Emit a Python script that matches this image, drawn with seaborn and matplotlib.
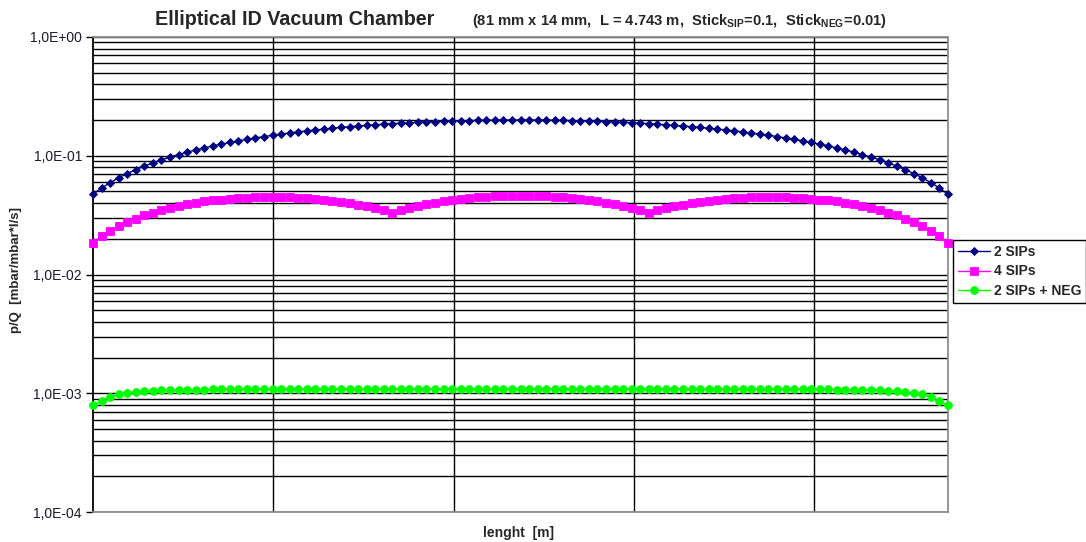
import numpy as np
import pandas as pd
import matplotlib
matplotlib.use("Agg")
import matplotlib.pyplot as plt
from matplotlib.ticker import LogLocator, FuncFormatter, NullFormatter
import seaborn as sns

# ---------------------------------------------------------------------------
# Data: pressure / outgassing ratio along the chamber (101 sampling points)
# ---------------------------------------------------------------------------
chamber_length = 4.743  # m
position = np.linspace(0.0, chamber_length, 101)

p_2sips = [
    0.0474, 0.0534, 0.0594, 0.0652, 0.0708, 0.0764, 0.0818, 0.0871, 0.0923, 0.0974,
    0.1023, 0.1072, 0.1119, 0.1164, 0.1209, 0.1252, 0.1294, 0.1335, 0.1375, 0.1413,
    0.1451, 0.1487, 0.1521, 0.1555, 0.1587, 0.1619, 0.1648, 0.1677, 0.1705, 0.1731,
    0.1756, 0.1780, 0.1802, 0.1824, 0.1844, 0.1863, 0.1880, 0.1897, 0.1912, 0.1926,
    0.1939, 0.1951, 0.1961, 0.1970, 0.1978, 0.1985, 0.1990, 0.1995, 0.1998, 0.1999,
    0.2000,
    0.1999, 0.1998, 0.1995, 0.1990, 0.1985, 0.1978, 0.1970, 0.1961, 0.1951, 0.1939,
    0.1926, 0.1912, 0.1897, 0.1880, 0.1863, 0.1844, 0.1824, 0.1802, 0.1780, 0.1756,
    0.1731, 0.1705, 0.1677, 0.1648, 0.1619, 0.1587, 0.1555, 0.1521, 0.1487, 0.1451,
    0.1413, 0.1375, 0.1335, 0.1294, 0.1252, 0.1209, 0.1164, 0.1119, 0.1072, 0.1023,
    0.0974, 0.0923, 0.0871, 0.0818, 0.0764, 0.0708, 0.0652, 0.0594, 0.0534, 0.0474,
]

p_4sips = [
    0.0185, 0.0210, 0.0233, 0.0255, 0.0277, 0.0296, 0.0315, 0.0332, 0.0349, 0.0364,
    0.0378, 0.0390, 0.0401, 0.0412, 0.0421, 0.0428, 0.0435, 0.0440, 0.0444, 0.0447,
    0.0449, 0.0450, 0.0449, 0.0447, 0.0444, 0.0440, 0.0434, 0.0427, 0.0419, 0.0410,
    0.0400, 0.0388, 0.0376, 0.0362, 0.0346, 0.0330,
    0.0347, 0.0362, 0.0377, 0.0390, 0.0402, 0.0413, 0.0423, 0.0432, 0.0439, 0.0446,
    0.0451, 0.0455, 0.0458, 0.0459, 0.0460, 0.0459, 0.0458, 0.0455, 0.0451, 0.0446,
    0.0439, 0.0432, 0.0423, 0.0413, 0.0402, 0.0390, 0.0377, 0.0362, 0.0347,
    0.0330, 0.0346, 0.0362, 0.0376, 0.0388, 0.0400,
    0.0410, 0.0419, 0.0427, 0.0434, 0.0440, 0.0444, 0.0447, 0.0449, 0.0450, 0.0449,
    0.0447, 0.0444, 0.0440, 0.0435, 0.0428, 0.0421, 0.0412, 0.0401, 0.0390, 0.0378,
    0.0364, 0.0349, 0.0332, 0.0315, 0.0296, 0.0277, 0.0255, 0.0233, 0.0210, 0.0185,
]

p_2sips_neg = [
    0.00079, 0.00086, 0.00093, 0.00098, 0.00101, 0.00103, 0.00104, 0.00105, 0.00106, 0.00106,
    0.00107, 0.00107, 0.00107, 0.00107, 0.00108, 0.00108, 0.00108, 0.00108, 0.00108, 0.00108,
    0.00108, 0.00108, 0.00108, 0.00108, 0.00108, 0.00108, 0.00108, 0.00108, 0.00108, 0.00108,
    0.00109, 0.00109, 0.00109, 0.00109, 0.00109, 0.00109, 0.00109, 0.00109, 0.00109, 0.00109,
    0.00109, 0.00109, 0.00109, 0.00109, 0.00109, 0.00109, 0.00109, 0.00109, 0.00109, 0.00109,
    0.00109,
    0.00109, 0.00109, 0.00109, 0.00109, 0.00109, 0.00109, 0.00109, 0.00109, 0.00109, 0.00109,
    0.00109, 0.00109, 0.00109, 0.00109, 0.00109, 0.00109, 0.00109, 0.00109, 0.00109, 0.00109,
    0.00108, 0.00108, 0.00108, 0.00108, 0.00108, 0.00108, 0.00108, 0.00108, 0.00108, 0.00108,
    0.00108, 0.00108, 0.00108, 0.00108, 0.00108, 0.00108, 0.00107, 0.00107, 0.00107, 0.00107,
    0.00106, 0.00106, 0.00105, 0.00104, 0.00103, 0.00101, 0.00098, 0.00093, 0.00086, 0.00079,
]

series_names = ["2 SIPs", "4 SIPs", "2 SIPs + NEG"]
series_values = [p_2sips, p_4sips, p_2sips_neg]
series_colors = ["#000080", "#FF00FF", "#00FF00"]
series_markers = ["D", "s", "o"]
series_msizes = [4.2, 5.6, 5.6]

# ---------------------------------------------------------------------------
# Style
# ---------------------------------------------------------------------------
sns.set_theme(style="white")
plt.rcParams["font.family"] = ["Liberation Sans", "DejaVu Sans"]
plt.rcParams["mathtext.fontset"] = "custom"
plt.rcParams["mathtext.rm"] = "Liberation Sans"
plt.rcParams["mathtext.bf"] = "Liberation Sans:bold"

W, H = 1086, 542
fig = plt.figure(figsize=(W / 100, H / 100), dpi=100)
fig.patch.set_facecolor("white")
ax = fig.add_axes([93 / W, 30 / H, 855 / W, 475 / H])
ax.set_facecolor("white")

for name, vals, col, mk, ms in zip(series_names, series_values, series_colors,
                                  series_markers, series_msizes):
    df = pd.DataFrame({"x": position, "p": vals})
    sns.lineplot(data=df, x="x", y="p", ax=ax, color=col, marker=mk,
                 markersize=ms, markeredgecolor=col, markeredgewidth=0.6,
                 linewidth=1.0, errorbar=None, label=name, zorder=3,
                 clip_on=False)

# Axes scaling and grid
ax.set_yscale("log")
ax.set_ylim(1e-4, 1.0)
ax.set_xlim(0, chamber_length)
ax.yaxis.set_major_locator(LogLocator(base=10, numticks=10))
ax.yaxis.set_minor_locator(LogLocator(base=10, subs=np.arange(2, 10), numticks=20))
ax.yaxis.set_minor_formatter(NullFormatter())
ax.yaxis.set_major_formatter(
    FuncFormatter(lambda v, pos: "1,0E{:+03d}".format(int(round(np.log10(v))))))
ax.set_xticks([1, 2, 3, 4])
ax.set_xticklabels([])

ax.grid(True, which="both", axis="y", color="black", linewidth=1.0)
ax.grid(True, which="major", axis="x", color="black", linewidth=1.0)

ax.tick_params(axis="x", which="both", length=0)
ax.tick_params(axis="y", which="major", length=5, width=1, color="black",
               direction="out", labelsize=10, labelcolor="#1a1a2a", pad=3, left=True)
ax.tick_params(axis="y", which="minor", length=0)

for side in ["top", "right", "bottom"]:
    ax.spines[side].set_color("#8c8c8c")
    ax.spines[side].set_linewidth(1.3)
ax.spines["left"].set_color("black")
ax.spines["left"].set_linewidth(1.3)

# Axis labels
ax.set_xlabel("lenght  [m]", fontsize=10, fontweight="bold")
ax.xaxis.set_label_coords(0.4975, -0.030)
ax.set_ylabel("p/Q  [mbar/mbar*l/s]", fontsize=9.5, fontweight="bold")
ax.yaxis.set_label_coords(-0.083, 0.51)

# Title
fig.text(155 / W, 1 - 25 / H, "Elliptical ID Vacuum Chamber",
         fontsize=14.2, fontweight="bold", ha="left", va="baseline")
fig.text(472 / W, 1 - 25 / H,
         r"(81 mm x 14 mm,  L = 4.743 m,  Stick$_{\mathbf{SIP}}$=0.1,  "
         r"Stick$_{\mathbf{NEG}}$=0.01)",
         fontsize=10.6, fontweight="bold", ha="left", va="baseline")

# Legend
handles, labels = ax.get_legend_handles_labels()
if ax.get_legend() is not None:
    ax.get_legend().remove()
leg = fig.legend(handles, labels, loc="upper left",
                 bbox_to_anchor=(953 / W, 1 - 240 / H), borderaxespad=0,
                 frameon=True, fancybox=False, edgecolor="black", framealpha=1,
                 prop={"size": 10, "weight": "bold"}, borderpad=0.35,
                 handlelength=2.3, handletextpad=0.3, labelspacing=0.4)
leg.get_frame().set_linewidth(1.0)

fig.savefig("out.png", dpi=100, facecolor="white")
